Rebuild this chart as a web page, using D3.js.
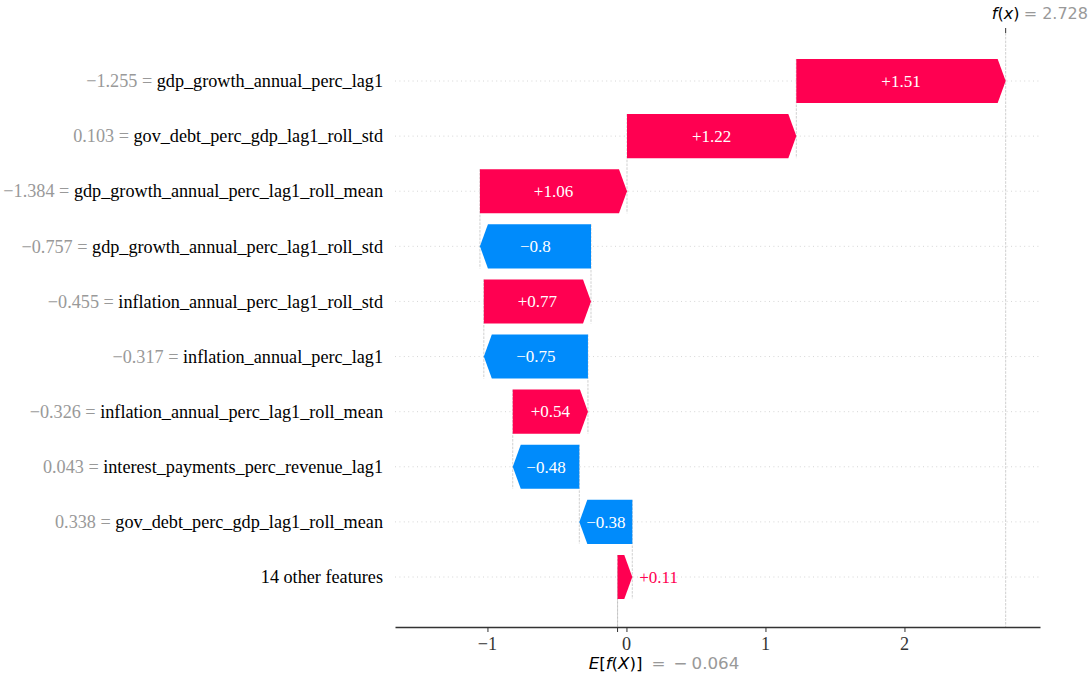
<!DOCTYPE html>
<html>
<head>
<meta charset="utf-8">
<script src="https://cdn.jsdelivr.net/npm/d3@7"></script>
<style>
  body { margin: 0; background: #fff; }
  svg { display: block; }
</style>
</head>
<body>
<div id="chart"></div>
<script>
// waterfall data, top row first
const featureNames = [
  "gdp_growth_annual_perc_lag1",
  "gov_debt_perc_gdp_lag1_roll_std",
  "gdp_growth_annual_perc_lag1_roll_mean",
  "gdp_growth_annual_perc_lag1_roll_std",
  "inflation_annual_perc_lag1_roll_std",
  "inflation_annual_perc_lag1",
  "inflation_annual_perc_lag1_roll_mean",
  "interest_payments_perc_revenue_lag1",
  "gov_debt_perc_gdp_lag1_roll_mean",
  "14 other features"
];
const featureValues = [-1.255, 0.103, -1.384, -0.757, -0.455, -0.317, -0.326, 0.043, 0.338, null];
const shapValues = [1.506, 1.218, 1.058, -0.799, 0.771, -0.749, 0.541, -0.479, -0.381, 0.106];
const baseValue = -0.064;
const xTicks = [-1, 0, 1, 2];

const width = 1089, height = 675;
const red = "#ff0051", blue = "#008bfb";
const serif = "Liberation Serif, Times New Roman, serif";
const sans = "DejaVu Sans, sans-serif";

const n = shapValues.length;
const fx = baseValue + d3.sum(shapValues);

const axLeft = 395, axRight = 1040, axTop = 33, axBottom = 627;
const x = d3.scaleLinear().domain([-1.665, 2.975]).range([axLeft, axRight]);
// row position: bottom row = 0, top row = n-1
const y = d3.scaleLinear().domain([0, n - 1]).range([577, 81]);
const barH = y(0) - y(0.8);
const headPx = 8;

function fmt(v, digits, plus) {
  let s = v.toFixed(digits);
  if (s.indexOf(".") >= 0) s = s.replace(/0+$/, "").replace(/\.$/, "");
  if (plus && v >= 0) s = "+" + s;
  return s.replace("-", "\u2212");
}

// cumulative starts, computed bottom-up
const rows = [];
let cum = baseValue;
for (let i = n - 1; i >= 0; i--) {
  rows[i] = { i, pos: n - 1 - i, start: cum, end: cum + shapValues[i], v: shapValues[i] };
  cum += shapValues[i];
}

const svg = d3.select("#chart").append("svg")
  .attr("width", width).attr("height", height);

// horizontal dotted row lines
svg.append("g").selectAll("line").data(rows).join("line")
  .attr("x1", axLeft).attr("x2", axRight)
  .attr("y1", d => y(d.pos)).attr("y2", d => y(d.pos))
  .attr("stroke", "#cccccc").attr("stroke-width", 0.8)
  .attr("stroke-dasharray", "1,3.4");

// vertical connector lines
svg.append("g").selectAll("line").data(rows).join("line")
  .attr("x1", d => x(d.start)).attr("x2", d => x(d.start))
  .attr("y1", d => y(d.pos) - barH / 2)
  .attr("y2", d => Math.min(y(d.pos - 1) + barH / 2, axBottom))
  .attr("stroke", "#bbbbbb").attr("stroke-width", 0.7)
  .attr("stroke-dasharray", "2.6,1.2");

// f(x) line and E[f(X)] line
svg.append("line")
  .attr("x1", x(fx)).attr("x2", x(fx)).attr("y1", axTop).attr("y2", axBottom)
  .attr("stroke", "#bbbbbb").attr("stroke-width", 0.7).attr("stroke-dasharray", "2.6,1.2");
svg.append("line")
  .attr("x1", x(baseValue)).attr("x2", x(baseValue))
  .attr("y1", axBottom - (axBottom - axTop) / n).attr("y2", axBottom)
  .attr("stroke", "#bbbbbb").attr("stroke-width", 0.7).attr("stroke-dasharray", "2.6,1.2");

// arrows
function arrowPath(d) {
  const a = x(d.start), b = x(d.end);
  const dir = d.v >= 0 ? 1 : -1;
  const h = Math.min(Math.abs(b - a), headPx);
  const yc = y(d.pos), t = yc - barH / 2, bt = yc + barH / 2;
  const neck = b - dir * h;
  return `M${a},${t}L${neck},${t}L${b},${yc}L${neck},${bt}L${a},${bt}Z`;
}
svg.append("g").selectAll("path").data(rows).join("path")
  .attr("d", arrowPath)
  .attr("fill", d => d.v >= 0 ? red : blue);

// bar value labels
const labels = svg.append("g").selectAll("text").data(rows).join("text")
  .attr("x", d => x((d.start + d.end) / 2))
  .attr("y", d => y(d.pos))
  .attr("dy", "0.34em")
  .attr("text-anchor", "middle")
  .attr("font-family", serif).attr("font-size", 17)
  .attr("fill", "#fff")
  .text(d => fmt(d.v, 2, true));
labels.each(function (d) {
  const w = this.getComputedTextLength();
  const barW = Math.abs(x(d.end) - x(d.start));
  if (w > barW - 4) {
    const sel = d3.select(this);
    if (d.v >= 0) sel.attr("x", x(d.end) + 7).attr("text-anchor", "start").attr("fill", red);
    else sel.attr("x", x(d.end) - 7).attr("text-anchor", "end").attr("fill", blue);
  }
});

// feature labels
const yl = svg.append("g").selectAll("text").data(rows).join("text")
  .attr("x", axLeft - 12)
  .attr("y", d => y(d.pos))
  .attr("dy", "0.34em")
  .attr("text-anchor", "end")
  .attr("font-family", serif).attr("font-size", 18.2);
yl.each(function (d) {
  const t = d3.select(this);
  const fv = featureValues[d.i];
  if (fv !== null) t.append("tspan").attr("fill", "#999999").text(fmt(fv, 3, false) + " = ");
  t.append("tspan").attr("fill", "#000").text(featureNames[d.i]);
});

// bottom axis (line + tick marks), labels drawn separately
const ax = svg.append("g").attr("transform", `translate(0,${axBottom})`)
  .call(d3.axisBottom(x).tickValues(xTicks).tickSize(5).tickSizeOuter(0).tickFormat(""));
ax.select(".domain").attr("stroke", "#333").attr("stroke-width", 1.4);
ax.selectAll(".tick line").attr("stroke", "#333");
svg.append("g").selectAll("text").data(xTicks).join("text")
  .attr("x", d => x(d)).attr("y", axBottom + 23)
  .attr("text-anchor", "middle")
  .attr("font-family", serif).attr("font-size", 18.2).attr("fill", "#333")
  .text(d => fmt(d, 0, false));
svg.append("line")
  .attr("x1", x(baseValue)).attr("x2", x(baseValue))
  .attr("y1", axBottom).attr("y2", axBottom + 5).attr("stroke", "#333");

// E[f(X)] label
const eLab = svg.append("text")
  .attr("x", x(baseValue) + 25).attr("y", 669).attr("text-anchor", "end")
  .attr("font-family", sans).attr("font-size", 16.7);
eLab.append("tspan").attr("font-style", "italic").text("E");
eLab.append("tspan").text("[");
eLab.append("tspan").attr("font-style", "italic").text("f");
eLab.append("tspan").text("(");
eLab.append("tspan").attr("font-style", "italic").text("X");
eLab.append("tspan").text(")]");
const eVal = svg.append("g").attr("font-family", sans).attr("font-size", 16.7).attr("fill", "#999999");
eVal.append("text").attr("x", x(baseValue) + 34).attr("y", 669).text("=");
eVal.append("text").attr("x", x(baseValue) + 56).attr("y", 669).text(baseValue < 0 ? "\u2212" : "");
eVal.append("text").attr("x", x(baseValue) + 74).attr("y", 669).text(Math.abs(baseValue).toFixed(3));

// f(x) label at top
svg.append("line")
  .attr("x1", x(fx)).attr("x2", x(fx)).attr("y1", axTop - 5).attr("y2", axTop)
  .attr("stroke", "#333");
const fLab = svg.append("text")
  .attr("x", x(fx)).attr("y", 19).attr("text-anchor", "middle")
  .attr("font-family", sans).attr("font-size", 16);
fLab.append("tspan").attr("font-style", "italic").text("f");
fLab.append("tspan").text("(");
fLab.append("tspan").attr("font-style", "italic").text("x");
fLab.append("tspan").text(")");
svg.append("text")
  .attr("x", x(fx) + 18).attr("y", 19)
  .attr("font-family", sans).attr("font-size", 16).attr("fill", "#999999")
  .text("= " + fx.toFixed(3));
</script>
</body>
</html>
